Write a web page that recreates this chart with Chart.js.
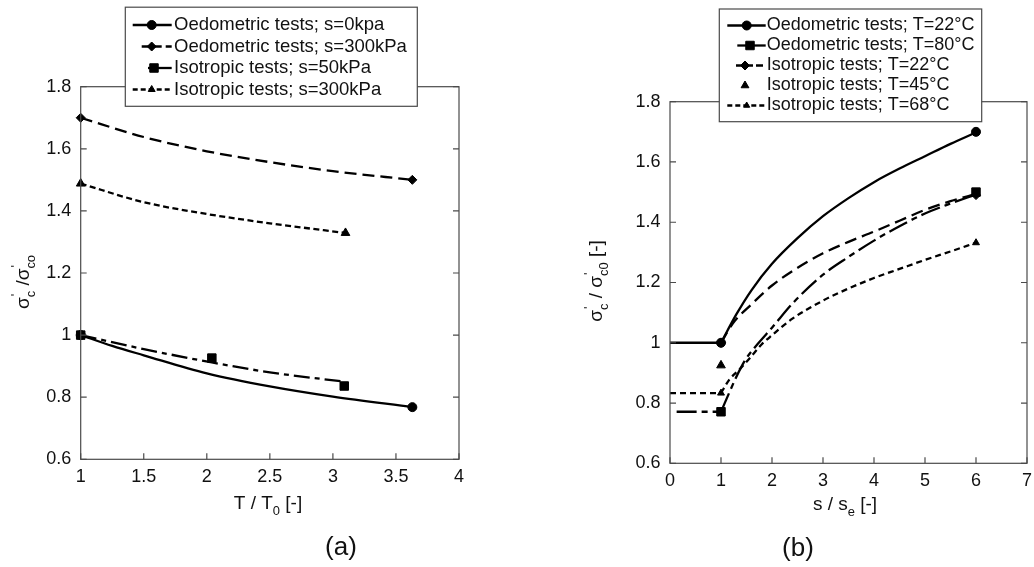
<!DOCTYPE html>
<html><head><meta charset="utf-8">
<script src="https://cdn.jsdelivr.net/npm/chart.js@4.4.1/dist/chart.umd.min.js"></script>
<style>
html,body{margin:0;padding:0;background:#fff;}
body{width:1034px;height:567px;position:relative;overflow:hidden;}
.w{position:absolute;top:0;width:517px;height:567px;}
</style></head><body>
<div class="w" style="left:0"><canvas id="ca"></canvas></div>
<div class="w" style="left:517px"><canvas id="cb"></canvas></div>
<script>
const FONT = "'Liberation Sans', Arial, Helvetica, sans-serif";
const INK = '#111';

// ---------- Panel (a) data ----------
const xTickLabelsA = ['1','1.5','2','2.5','3','3.5','4'];
const yTickLabels = ['0.6','0.8','1','1.2','1.4','1.6','1.8'];
const seriesNamesA = ['Oedometric tests; s=0kpa','Oedometric tests; s=300kPa','Isotropic tests; s=50kPa','Isotropic tests; s=300kPa'];

const oedS0LineX = [1, 1.25, 1.5, 2, 2.5, 3, 3.63];
const oedS0LineY = [1.0, 0.965, 0.935, 0.877, 0.835, 0.802, 0.768];
const oedS0PtsX = [1, 3.63];
const oedS0PtsY = [1.0, 0.768];

const oedS300LineX = [1, 1.5, 2, 2.5, 3, 3.63];
const oedS300LineY = [1.70, 1.638, 1.592, 1.557, 1.528, 1.50];
const oedS300PtsX = [1, 3.63];
const oedS300PtsY = [1.70, 1.50];

const isoS50LineX = [1, 1.5, 2.04, 2.5, 3.09];
const isoS50LineY = [1.0, 0.955, 0.912, 0.88, 0.85];
const isoS50PtsX = [1, 2.04, 3.09];
const isoS50PtsY = [1.0, 0.926, 0.836];

const isoS300LineX = [1, 1.5, 2, 2.5, 3.1];
const isoS300LineY = [1.488, 1.428, 1.39, 1.36, 1.329];
const isoS300PtsX = [1, 3.1];
const isoS300PtsY = [1.488, 1.329];

// ---------- Panel (b) data ----------
const xTickLabelsB = ['0','1','2','3','4','5','6','7'];
const seriesNamesB = ['Oedometric tests; T=22°C','Oedometric tests; T=80°C','Isotropic tests; T=22°C','Isotropic tests; T=45°C','Isotropic tests; T=68°C'];

const oed22X = [0, 1, 1.3, 1.6, 2, 2.5, 3, 3.5, 4, 4.5, 5, 5.5, 6];
const oed22Y = [1, 1, 1.094, 1.175, 1.262, 1.347, 1.42, 1.48, 1.533, 1.578, 1.619, 1.66, 1.698];
const oed22PtsX = [1, 6];
const oed22PtsY = [1.0, 1.70];

const oed80X = [0.13, 1, 1.13, 1.29, 1.48, 1.74, 2, 2.4, 3, 3.5, 4, 4.5, 5, 5.5, 6];
const oed80Y = [0.771, 0.771, 0.822, 0.883, 0.944, 1.0, 1.05, 1.13, 1.226, 1.285, 1.339, 1.387, 1.429, 1.462, 1.492];
const oed80PtsX = [1, 6];
const oed80PtsY = [0.771, 1.50];

const iso22X = [1, 1.23, 1.6, 2, 2.4, 3, 3.5, 4, 4.5, 5, 5.5, 6];
const iso22Y = [1.0, 1.064, 1.128, 1.19, 1.238, 1.297, 1.335, 1.369, 1.405, 1.441, 1.47, 1.494];
const iso22PtsX = [1, 6];
const iso22PtsY = [1.0, 1.49];

const iso45PtsX = [1];
const iso45PtsY = [0.925];

const iso68X = [0, 1, 1.16, 1.36, 1.55, 1.8, 2, 2.4, 3, 3.5, 4, 4.5, 5, 5.5, 6];
const iso68Y = [0.833, 0.833, 0.877, 0.911, 0.946, 0.995, 1.025, 1.08, 1.14, 1.18, 1.215, 1.245, 1.275, 1.303, 1.332];
const iso68PtsX = [1, 6];
const iso68PtsY = [0.833, 1.332];

// ---------- helpers ----------
const pts = (xs, ys, from = 0, to = xs.length) => xs.slice(from, to).map((x, i) => ({x, y: ys[from + i]}));

function lineDs(data, dash, smooth = true) {
  return {type: 'line', data, borderColor: '#000', borderWidth: 2.3, borderDash: dash,
    pointRadius: 0, fill: false, cubicInterpolationMode: smooth ? 'monotone' : 'default', tension: 0, clip: false};
}
function markDs(data, style, r) {
  return {type: 'line', data, showLine: false, pointStyle: style, pointRadius: r,
    pointBackgroundColor: '#000', pointBorderColor: '#000', pointBorderWidth: 1, clip: false};
}

function drawRich(ctx, segs, cx, by, size) {
  const ss = size * 0.68;
  const fN = size + 'px ' + FONT, fS = ss + 'px ' + FONT;
  const parts = segs.map(s => {
    if (typeof s === 'string') { ctx.font = fN; return {s, w: ctx.measureText(s).width}; }
    ctx.font = fS;
    const w = Math.max(s.sub ? ctx.measureText(s.sub).width : 0, s.sup ? ctx.measureText(s.sup).width + 1 : 0);
    return {s, w};
  });
  const total = parts.reduce((a, p) => a + p.w, 0);
  let x = cx - total / 2;
  ctx.textAlign = 'left'; ctx.textBaseline = 'alphabetic'; ctx.fillStyle = INK;
  parts.forEach(p => {
    if (typeof p.s === 'string') { ctx.font = fN; ctx.fillText(p.s, x, by); }
    else {
      ctx.font = fS;
      if (p.s.sub) ctx.fillText(p.s.sub, x, by + size * 0.3);
      if (p.s.sup) ctx.fillText(p.s.sup, x + 1, by - size * 0.45);
    }
    x += p.w;
  });
}

const framePlugin = {
  id: 'frame',
  afterDatasetsDraw(chart) {
    const {ctx, chartArea: a, scales: {x, y}} = chart;
    ctx.save();
    ctx.strokeStyle = '#4a4a4a'; ctx.lineWidth = 1.2;
    ctx.strokeRect(a.left, a.top, a.right - a.left, a.bottom - a.top);
    const L = 6;
    ctx.beginPath();
    y.ticks.forEach(t => {
      const p = y.getPixelForValue(t.value);
      ctx.moveTo(a.left, p); ctx.lineTo(a.left + L, p);
      ctx.moveTo(a.right, p); ctx.lineTo(a.right - L, p);
    });
    x.ticks.forEach(t => {
      const p = x.getPixelForValue(t.value);
      ctx.moveTo(p, a.bottom); ctx.lineTo(p, a.bottom - L);
    });
    ctx.stroke();
    ctx.restore();
  }
};

function legendPlugin(cfg) {
  return {
    id: 'boxLegend',
    afterDraw(chart) {
      const ctx = chart.ctx;
      const [x1, y1, x2, y2] = cfg.box;
      ctx.save();
      ctx.fillStyle = '#fff';
      ctx.fillRect(x1, y1, x2 - x1, y2 - y1);
      ctx.strokeStyle = '#4a4a4a'; ctx.lineWidth = 1.2;
      ctx.strokeRect(x1, y1, x2 - x1, y2 - y1);
      cfg.items.forEach((it, i) => {
        const yy = cfg.rows[i];
        if (it.x0 !== undefined) {
          ctx.setLineDash(it.dash || []);
          ctx.lineWidth = 2.3; ctx.strokeStyle = '#000';
          ctx.beginPath(); ctx.moveTo(it.x0, yy); ctx.lineTo(cfg.lineEnd, yy); ctx.stroke();
          ctx.setLineDash([]);
        }
        ctx.fillStyle = '#000'; ctx.strokeStyle = '#000'; ctx.lineWidth = 1;
        Chart.helpers.drawPoint(ctx, {pointStyle: it.style, radius: it.r, rotation: 0, borderWidth: 1}, it.mx, yy);
        ctx.fillStyle = INK; ctx.font = cfg.font; ctx.textBaseline = 'middle'; ctx.textAlign = 'left';
        ctx.fillText(cfg.labels[i], cfg.textX, yy);
      });
      ctx.restore();
    }
  };
}

function titlePlugin(cfg) {
  return {
    id: 'titles',
    afterDraw(chart) {
      const ctx = chart.ctx;
      ctx.save();
      drawRich(ctx, cfg.xTitle, cfg.xTitlePos[0], cfg.xTitlePos[1], 19);
      ctx.save();
      ctx.translate(cfg.yTitlePos[0], cfg.yTitlePos[1]);
      ctx.rotate(-Math.PI / 2);
      drawRich(ctx, cfg.yTitle, 0, 0, 19);
      ctx.restore();
      drawRich(ctx, [cfg.caption], cfg.captionPos[0], cfg.captionPos[1], 26);
      ctx.restore();
    }
  };
}

function scalesFor(xMin, xMax, xStep, xLabels, areaBottom, yWidth) {
  const tickFont = {family: FONT, size: 18};
  return {
    x: {type: 'linear', min: xMin, max: xMax,
      ticks: {stepSize: xStep, autoSkip: false, maxRotation: 0, padding: 7, font: tickFont, color: INK,
        callback: (v, i) => xLabels[i]},
      grid: {display: false, drawTicks: false}, border: {display: false},
      afterFit(s) { s.height = 567 - areaBottom; s.paddingLeft = 0; s.paddingRight = 0; }},
    y: {type: 'linear', min: 0.6, max: 1.8,
      ticks: {stepSize: 0.2, padding: 9.5, font: tickFont, color: INK,
        callback: (v, i) => yTickLabels[i]},
      grid: {display: false, drawTicks: false}, border: {display: false},
      afterFit(s) { s.width = yWidth; s.paddingTop = 0; s.paddingBottom = 0; }}
  };
}

const common = {responsive: true, maintainAspectRatio: false, animation: false, devicePixelRatio: 1, events: [],
  plugins: {legend: {display: false}, tooltip: {enabled: false}}};

// ---------- Chart (a) ----------
new Chart(document.getElementById('ca'), {
  type: 'line',
  data: {datasets: [
    lineDs(pts(oedS0LineX, oedS0LineY), []),
    markDs(pts(oedS0PtsX, oedS0PtsY), 'circle', 4.5),
    lineDs(pts(oedS300LineX, oedS300LineY), [12, 6]),
    markDs(pts(oedS300PtsX, oedS300PtsY), 'rectRot', 4.5),
    lineDs(pts(isoS50LineX, isoS50LineY), [16, 5, 5, 5]),
    markDs(pts(isoS50PtsX, isoS50PtsY), 'rect', 6),
    lineDs(pts(isoS300LineX, isoS300LineY), [6, 3.5]),
    markDs(pts(isoS300PtsX, isoS300PtsY), 'triangle', 5)
  ]},
  options: Object.assign({}, common, {
    layout: {padding: {left: 0, top: 86.7, right: 58, bottom: 0}},
    scales: scalesFor(1, 4, 0.5, xTickLabelsA, 459.3, 80.7)
  }),
  plugins: [framePlugin,
    legendPlugin({box: [125.3, 7.2, 417.3, 106.3], rows: [25, 46.5, 68, 89.5], lineEnd: 171.7, textX: 174,
      font: '18.5px ' + FONT, labels: seriesNamesA,
      items: [
        {x0: 132.7, dash: [], style: 'circle', r: 4.5, mx: 151.7},
        {x0: 141.7, dash: [8, 4], style: 'rectRot', r: 4.5, mx: 151.7},
        {x0: 148, dash: [], style: 'rect', r: 6, mx: 154},
        {x0: 132.7, dash: [5, 3], style: 'triangle', r: 4, mx: 151.7}
      ]}),
    titlePlugin({xTitle: ['T / T', {sub: '0'}, ' [-]'], xTitlePos: [268, 509],
      yTitle: ['σ', {sup: "'", sub: 'c'}, ' /σ', {sup: "'", sub: 'co'}], yTitlePos: [29, 282],
      caption: '(a)', captionPos: [341, 555]})
  ]
});

// ---------- Chart (b) ----------
new Chart(document.getElementById('cb'), {
  type: 'line',
  data: {datasets: [
    lineDs(pts(oed22X, oed22Y, 0, 2), [], false),
    lineDs(pts(oed22X, oed22Y, 1), []),
    markDs(pts(oed22PtsX, oed22PtsY), 'circle', 4.5),
    lineDs(pts(oed80X, oed80Y, 0, 2), [20, 5, 6, 5], false),
    lineDs(pts(oed80X, oed80Y, 1), [20, 5, 6, 5]),
    markDs(pts(oed80PtsX, oed80PtsY), 'rect', 6),
    lineDs(pts(iso22X, iso22Y), [12, 6]),
    markDs(pts(iso22PtsX, iso22PtsY), 'rectRot', 4.5),
    markDs(pts(iso45PtsX, iso45PtsY), 'triangle', 5),
    lineDs(pts(iso68X, iso68Y, 0, 2), [6, 4], false),
    lineDs(pts(iso68X, iso68Y, 1), [6, 4]),
    markDs(pts(iso68PtsX, iso68PtsY), 'triangle', 4)
  ]},
  options: Object.assign({}, common, {
    layout: {padding: {left: 0, top: 101.7, right: 1.7, bottom: 0}},
    scales: scalesFor(0, 7, 1, xTickLabelsB, 463.3, 153)
  }),
  plugins: [framePlugin,
    legendPlugin({box: [202.3, 9, 464.7, 121.7], rows: [25.5, 45.5, 65.5, 85.5, 105.5], lineEnd: 248.7, textX: 249.7,
      font: '18px ' + FONT, labels: seriesNamesB,
      items: [
        {x0: 210.3, dash: [], style: 'circle', r: 4.5, mx: 229.7},
        {x0: 220.3, dash: [], style: 'rect', r: 6, mx: 233},
        {x0: 219, dash: [7, 3], style: 'rectRot', r: 4.5, mx: 228},
        {style: 'triangle', r: 4.5, mx: 228},
        {x0: 210.3, dash: [5, 3], style: 'triangle', r: 3.5, mx: 229.7}
      ]}),
    titlePlugin({xTitle: ['s / s', {sub: 'e'}, ' [-]'], xTitlePos: [328, 510],
      yTitle: ['σ', {sup: "'", sub: 'c'}, ' / σ', {sup: "'", sub: 'c0'}, ' [-]'], yTitlePos: [85, 281],
      caption: '(b)', captionPos: [281, 556]})
  ]
});
</script></body></html>
